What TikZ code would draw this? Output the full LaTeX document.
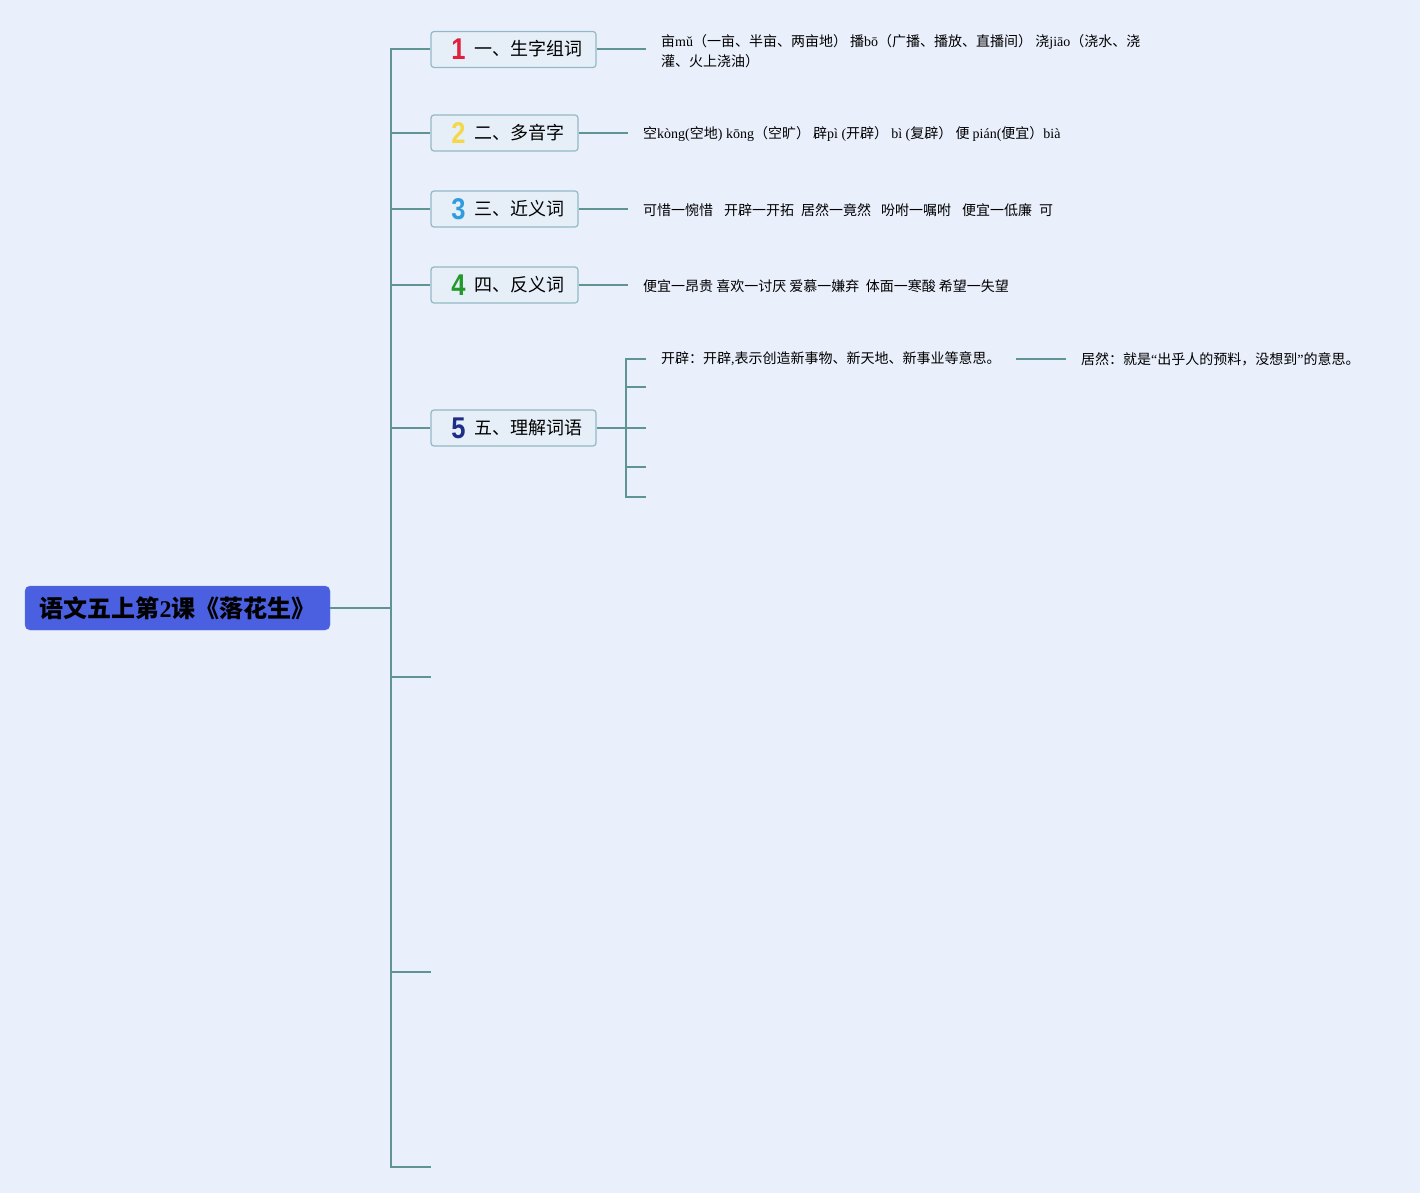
\documentclass[tikz,border=0pt]{standalone}
\usepackage{fontspec}
\setmainfont{Noto Sans CJK SC}
\newfontfamily\lat{Liberation Serif}
\newfontfamily\dig{Liberation Sans}
\newcommand\lt[1]{{\lat #1}}
\definecolor{bgc}{HTML}{EAEFFC}
\definecolor{linec}{HTML}{5E9494}
\definecolor{rootc}{HTML}{4A60E0}
\definecolor{rootd}{HTML}{6272EA}
\definecolor{boxc}{HTML}{E6EFF8}
\definecolor{boxd}{HTML}{93BAC4}
\definecolor{cA}{HTML}{E0203C}
\definecolor{cB}{HTML}{F4D84A}
\definecolor{cC}{HTML}{2E9CE0}
\definecolor{cD}{HTML}{22992A}
\definecolor{cE}{HTML}{1E2D86}
\newcommand\numd[2]{\hspace*{7pt}\raisebox{-4pt}{\dig\bfseries\fontsize{30}{30}\selectfont\color{#1}\scalebox{0.85}[1]{#2}}\hspace{9pt}}
\begin{document}
\begin{tikzpicture}[x=1pt,y=-1pt,
  conn/.style={draw=linec, line width=2pt},
  rootbox/.style={fill=rootc, draw=rootd, rounded corners=5pt, minimum width=305pt, minimum height=44pt, inner sep=0pt, font=\fontsize{24}{28}\selectfont\bfseries},
  catbox/.style={fill=boxc, draw=boxd, line width=1.2pt, rounded corners=3pt, minimum height=36pt, inner sep=0pt, font=\fontsize{18}{22}\selectfont},
  leaf/.style={inner xsep=15pt, inner ysep=2pt, font=\fontsize{14}{20}\selectfont, align=left}]
\fill[bgc] (0,0) rectangle (1420,1193);
\useasboundingbox (0,0) rectangle (1420,1193);

\node[rootbox] (root) at (177.5,608) {语文五上第{\lat\bfseries 2}课《落花生》};

\node[catbox, minimum width=165pt] (b1) at (513.5,49.5) {\numd{cA}{1}一、生字组词};
\node[catbox, minimum width=147pt] (b2) at (504.5,133) {\numd{cB}{2}二、多音字};
\node[catbox, minimum width=147pt] (b3) at (504.5,209) {\numd{cC}{3}三、近义词};
\node[catbox, minimum width=147pt] (b4) at (504.5,285) {\numd{cD}{4}四、反义词};
\node[catbox, minimum width=165pt] (b5) at (513.5,428) {\numd{cE}{5}五、理解词语};

\coordinate (jr) at (391,608);
\coordinate (x1) at (431,677);
\coordinate (x2) at (431,972);
\coordinate (x3) at (431,1167);

\node[leaf, anchor=west] (l1) at (646,51.5) {亩\lt{mǔ}（一亩、半亩、两亩地） 播\lt{bō}（广播、播放、直播间） 浇\lt{jiāo}（浇水、浇\\灌、火上浇油）};
\node[leaf, anchor=west] (l2) at (628,134) {空\lt{kòng(}空地\lt{) kōng}（空旷） 辟\lt{pì (}开辟） \lt{bì (}复辟） 便 \lt{pián(}便宜）\lt{bià}};
\node[leaf, anchor=west] (l3) at (628,210) {可惜一惋惜\hspace{11pt}开辟一开拓\hspace{7pt}居然一竟然\hspace{10pt}吩咐一嘱咐\hspace{11pt}便宜一低廉\hspace{7pt}可};
\node[leaf, anchor=west] (l4) at (628,286) {便宜一昂贵 喜欢一讨厌 爱慕一嫌弃~ 体面一寒酸 希望一失望};

\coordinate (s5) at (626,428);
\node[leaf, anchor=west] (l5a) at (646,359) {开辟：开辟\lt{,}表示创造新事物、新天地、新事业等意思。};
\node[leaf, anchor=west] (l5b) at (1066,359) {居然：就是\lt{“}出乎人的预料，没想到\lt{”}的意思。};
\coordinate (e1) at (646,387);
\coordinate (e2) at (646,428);
\coordinate (e3) at (646,467);
\coordinate (e4) at (646,497);

% trunk
\draw[conn] (root.east) -- (jr);
\draw[conn] (b1.west) -| (jr) |- (x3);
\draw[conn] (jr |- b2.west) -- (b2.west);
\draw[conn] (jr |- b3.west) -- (b3.west);
\draw[conn] (jr |- b4.west) -- (b4.west);
\draw[conn] (jr |- b5.west) -- (b5.west);
\draw[conn] (jr |- x1) -- (x1);
\draw[conn] (jr |- x2) -- (x2);

% leaves
\draw[conn] (b1.east) -- (b1.east -| l1.west);
\draw[conn] (b2.east) -- (b2.east -| l2.west);
\draw[conn] (b3.east) -- (b3.east -| l3.west);
\draw[conn] (b4.east) -- (b4.east -| l4.west);

% subtree 5
\draw[conn] (b5.east) -- (s5) -- (e2);
\draw[conn] (l5a.west) -| (s5) |- (e4);
\draw[conn] (s5 |- e1) -- (e1);
\draw[conn] (s5 |- e3) -- (e3);
\draw[conn] (l5a.east) -- (l5b.west);
\end{tikzpicture}
\end{document}
